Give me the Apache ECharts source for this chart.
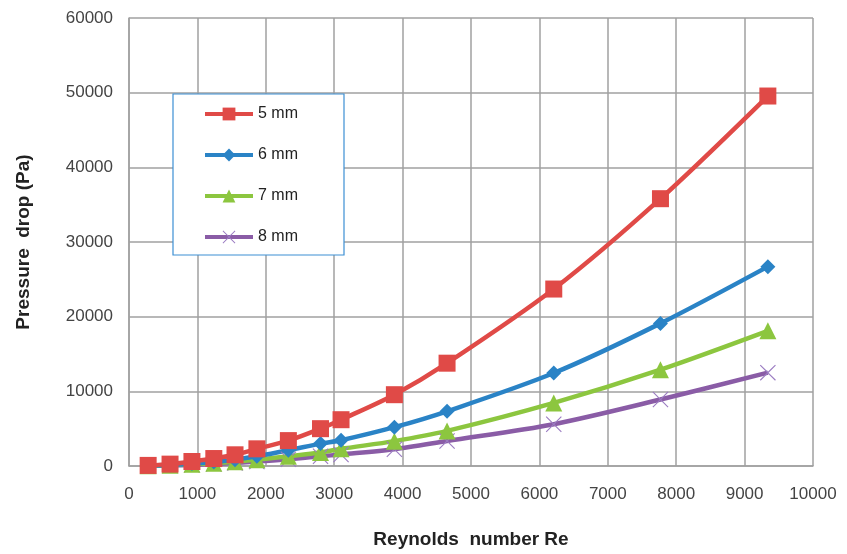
<!DOCTYPE html>
<html>
<head>
<meta charset="utf-8">
<script src="https://cdn.jsdelivr.net/npm/echarts@6/dist/echarts.min.js"></script>
<style>
  html, body { margin: 0; padding: 0; background: #fff; }
  #chart { width: 847px; height: 554px; }
</style>
</head>
<body>
<div id="chart"></div>
<script>
// Reynolds numbers (shared by all series)
const reynolds = [280, 600, 920, 1240, 1550, 1870, 2330, 2800, 3100, 3880, 4650, 6210, 7770, 9340];

// Pressure drop (Pa) per channel size
const drop5mm = [80, 250, 600, 1000, 1500, 2300, 3400, 5000, 6200, 9550, 13770, 23700, 35800, 49550];
const drop6mm = [40, 130, 320, 550, 850, 1300, 2100, 3000, 3450, 5200, 7330, 12450, 19100, 26700];
const drop7mm = [30, 90, 220, 380, 560, 850, 1300, 1800, 2300, 3330, 4700, 8450, 12900, 18100];
const drop8mm = [20, 60, 150, 260, 400, 600, 900, 1300, 1550, 2250, 3350, 5600, 8900, 12500];

const seriesNames = ["5 mm", "6 mm", "7 mm", "8 mm"];

const FONT = "'Liberation Sans', Arial, sans-serif";
const crossPath = "path://M0,1L1,0L10,9L19,0L20,1L11,10L20,19L19,20L10,11L1,20L0,19L9,10Z";
const diamondPath = "path://M10,0L20,10L10,20L0,10Z";

function pairs(ys) {
  return reynolds.map((x, i) => [x, ys[i]]);
}

function makeSeries(name, ys, color, symbol, symbolSize, markerColor) {
  return {
    name: name,
    type: "line",
    data: pairs(ys),
    smooth: 0.3,
    symbol: symbol,
    symbolSize: symbolSize,
    lineStyle: { color: color, width: 4.5 },
    itemStyle: { color: markerColor || color },
    z: 3
  };
}

const chart = echarts.init(document.getElementById("chart"));

chart.setOption({
  animation: false,
  backgroundColor: "#ffffff",
  grid: { left: 129, right: 34, top: 18, bottom: 86 },
  legend: {
    orient: "vertical",
    left: 173,
    top: 94,
    padding: [12, 46, 10, 30],
    itemGap: 25,
    itemWidth: 48,
    itemHeight: 16,
    borderColor: "#3c8fd4",
    borderWidth: 1.2,
    backgroundColor: "#ffffff",
    lineStyle: { width: 4 },
    data: seriesNames,
    textStyle: { fontFamily: FONT, fontSize: 16, color: "#222" }
  },
  xAxis: {
    type: "value",
    min: 0,
    max: 10000,
    interval: 1000,
    name: "Reynolds  number Re",
    nameLocation: "middle",
    nameGap: 64,
    nameTextStyle: { fontFamily: FONT, fontSize: 19, fontWeight: "bold", color: "#222" },
    axisLine: { show: true, lineStyle: { color: "#a0a0a0", width: 1.5 } },
    axisTick: { show: false },
    axisLabel: { fontFamily: FONT, fontSize: 17, color: "#444", margin: 20, formatter: v => String(v) },
    splitLine: { show: true, lineStyle: { color: "#a0a0a0", width: 1.5 } }
  },
  yAxis: {
    type: "value",
    min: 0,
    max: 60000,
    interval: 10000,
    name: "Pressure  drop (Pa)",
    nameLocation: "middle",
    nameGap: 96,
    nameTextStyle: { fontFamily: FONT, fontSize: 19, fontWeight: "bold", color: "#222" },
    axisLine: { show: true, lineStyle: { color: "#a0a0a0", width: 1.5 } },
    axisTick: { show: false },
    axisLabel: { fontFamily: FONT, fontSize: 17, color: "#444", margin: 16, formatter: v => String(v) },
    splitLine: { show: true, lineStyle: { color: "#a0a0a0", width: 1.5 } }
  },
  series: [
    makeSeries(seriesNames[3], drop8mm, "#8a5ca6", crossPath, 16, "#9b7cc2"),
    makeSeries(seriesNames[2], drop7mm, "#8cc63f", "triangle", 17),
    makeSeries(seriesNames[1], drop6mm, "#2a83c6", diamondPath, 15),
    makeSeries(seriesNames[0], drop5mm, "#e04a47", "rect", 17)
  ]
});
</script>
</body>
</html>
